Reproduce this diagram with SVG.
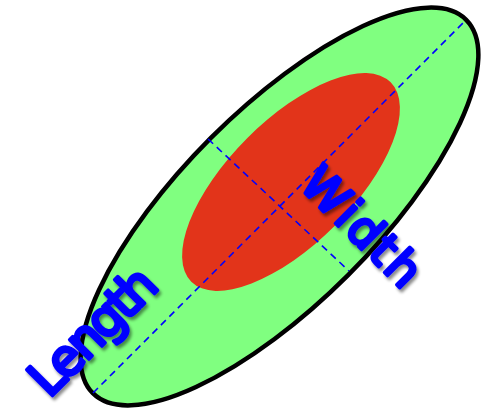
<svg xmlns="http://www.w3.org/2000/svg" width="481" height="410" viewBox="0 0 481 410">
<defs>
<style>
.axis{stroke:#0000FF;stroke-width:1.6;stroke-dasharray:7 5;fill:none}
.lbl{font-family:"DejaVu Sans","Liberation Sans",sans-serif;fill:#0000FF;stroke:#0000FF;stroke-width:3.5;stroke-linejoin:round;stroke-linecap:round}
</style>
<filter id="sh" x="-20%" y="-20%" width="140%" height="140%">
<feDropShadow dx="2" dy="3" stdDeviation="1.5" flood-color="#000" flood-opacity="0.45"/>
</filter>
</defs>
<g id="outer">
<ellipse cx="279.5" cy="206.5" rx="264" ry="97" transform="rotate(-45 279.5 206.5)" fill="#80FF80" stroke="#000" stroke-width="4.5"/>
</g>
<g id="inner">
<ellipse cx="291" cy="182" rx="141" ry="62" transform="rotate(-45 291 182)" fill="#E2341A"/>
</g>
<g id="axes">
<line class="axis" x1="93" y1="393" x2="466" y2="20"/>
<line class="axis" x1="208" y1="139" x2="349" y2="271"/>
</g>
<g id="length-label" filter="url(#sh)">
<text class="lbl" font-size="50" textLength="158" transform="translate(49 399) rotate(-45)">Length</text>
</g>
<g id="width-label" filter="url(#sh)">
<text class="lbl" font-size="47" textLength="148" transform="translate(298 186) rotate(45)">Width</text>
</g>
</svg>
